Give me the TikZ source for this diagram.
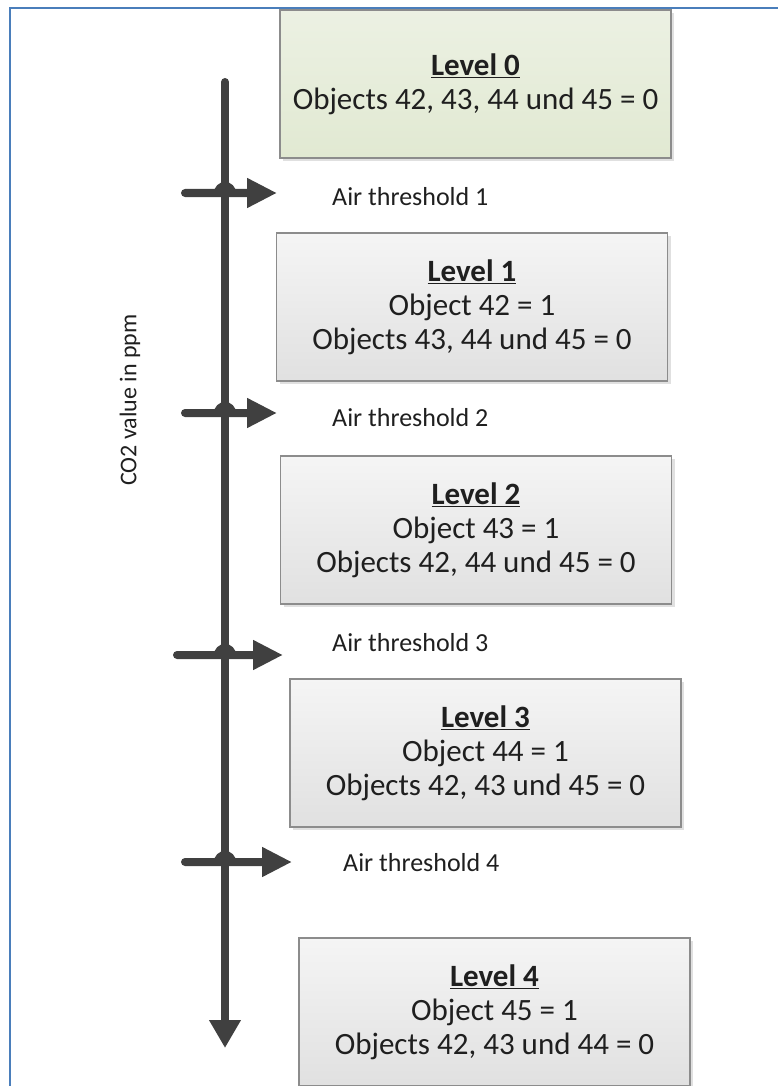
\documentclass[tikz,border=0pt]{standalone}
\usepackage{fontspec}
\setmainfont{Carlito}
\usetikzlibrary{arrows.meta,positioning,shadows}

\definecolor{framebl}{RGB}{74,126,187}
\definecolor{axisgray}{RGB}{64,64,64}
\definecolor{boxline}{RGB}{140,140,140}
\definecolor{greentop}{RGB}{236,241,227}
\definecolor{greenbot}{RGB}{225,233,210}

\begin{document}
\begin{tikzpicture}[
  x=1pt,
  y=-1pt,
  node distance=75pt,
  >={Triangle[length=30pt,width=28pt]},
  level/.style={
    rectangle,
    draw=boxline,
    line width=1.2pt,
    top color=black!4,
    bottom color=black!12,
    drop shadow={shadow xshift=3pt,shadow yshift=-3pt,fill=black,opacity=0.12},
    minimum width=391pt,
    minimum height=148pt,
    inner sep=0pt,
    outer sep=0pt,
    align=center,
    text=black!88,
    font=\fontsize{31}{34}\selectfont
  },
  threshold/.style={
    anchor=west,
    inner sep=0pt,
    text=black!88,
    font=\fontsize{26}{30}\selectfont
  },
  axis/.style={
    draw=axisgray,
    line width=8pt
  }
]
  \useasboundingbox (0,0) rectangle (778,1086);
  \draw[framebl,line width=2pt] (10,1086) -- (10,8) -- (778,8);

  % level boxes
  \node[level,top color=greentop,bottom color=greenbot] (lvl0) at (475.5,84)
    {\underline{\textbf{Level 0}}\\Objects 42, 43, 44 und 45 = 0};
  \node[level,below=of lvl0,xshift=-3.5pt] (lvl1)
    {\underline{\textbf{Level 1}}\\Object 42 = 1\\Objects 43, 44 und 45 = 0};
  \node[level,below=of lvl1,xshift=4pt] (lvl2)
    {\underline{\textbf{Level 2}}\\Object 43 = 1\\Objects 42, 44 und 45 = 0};
  \node[level,below=of lvl2,xshift=9.5pt] (lvl3)
    {\underline{\textbf{Level 3}}\\Object 44 = 1\\Objects 42, 43 und 45 = 0};
  \node[level,below=111pt of lvl3,xshift=9pt] (lvl4)
    {\underline{\textbf{Level 4}}\\Object 45 = 1\\Objects 42, 43 und 44 = 0};

  % value axis
  \coordinate (axtop) at (225,82);
  \coordinate (axend) at (225,1048);
  \draw[axis,line cap=round,-{Triangle[length=28pt,width=30pt]}] (axtop) -- (axend);
  \node[rotate=90,text=black!88,font=\fontsize{24}{28}\selectfont] (axlabel)
    at (130,400) {CO2 value in ppm};

  % thresholds
  \coordinate (t1s) at (185,193);
  \coordinate (t1e) at (277,193);
  \coordinate (t2s) at (185,413);
  \coordinate (t2e) at (277,413);
  \coordinate (t3s) at (177,655);
  \coordinate (t3e) at (283,655);
  \coordinate (t4s) at (185,862);
  \coordinate (t4e) at (292,862);
  \draw[axis,line cap=round,->] (t1s) -- (218,193)
    arc[start angle=180,end angle=360,radius=7] -- (t1e);
  \draw[axis,line cap=round,->] (t2s) -- (218,413)
    arc[start angle=180,end angle=360,radius=7] -- (t2e);
  \draw[axis,line cap=round,->] (t3s) -- (218,655)
    arc[start angle=180,end angle=360,radius=7] -- (t3e);
  \draw[axis,line cap=round,->] (t4s) -- (218,862)
    arc[start angle=180,end angle=360,radius=7] -- (t4e);

  \node[threshold] (thr1) at (332,197) {Air threshold 1};
  \node[threshold] (thr2) at (332,418) {Air threshold 2};
  \node[threshold] (thr3) at (332,643) {Air threshold 3};
  \node[threshold] (thr4) at (343,863) {Air threshold 4};
\end{tikzpicture}
\end{document}
